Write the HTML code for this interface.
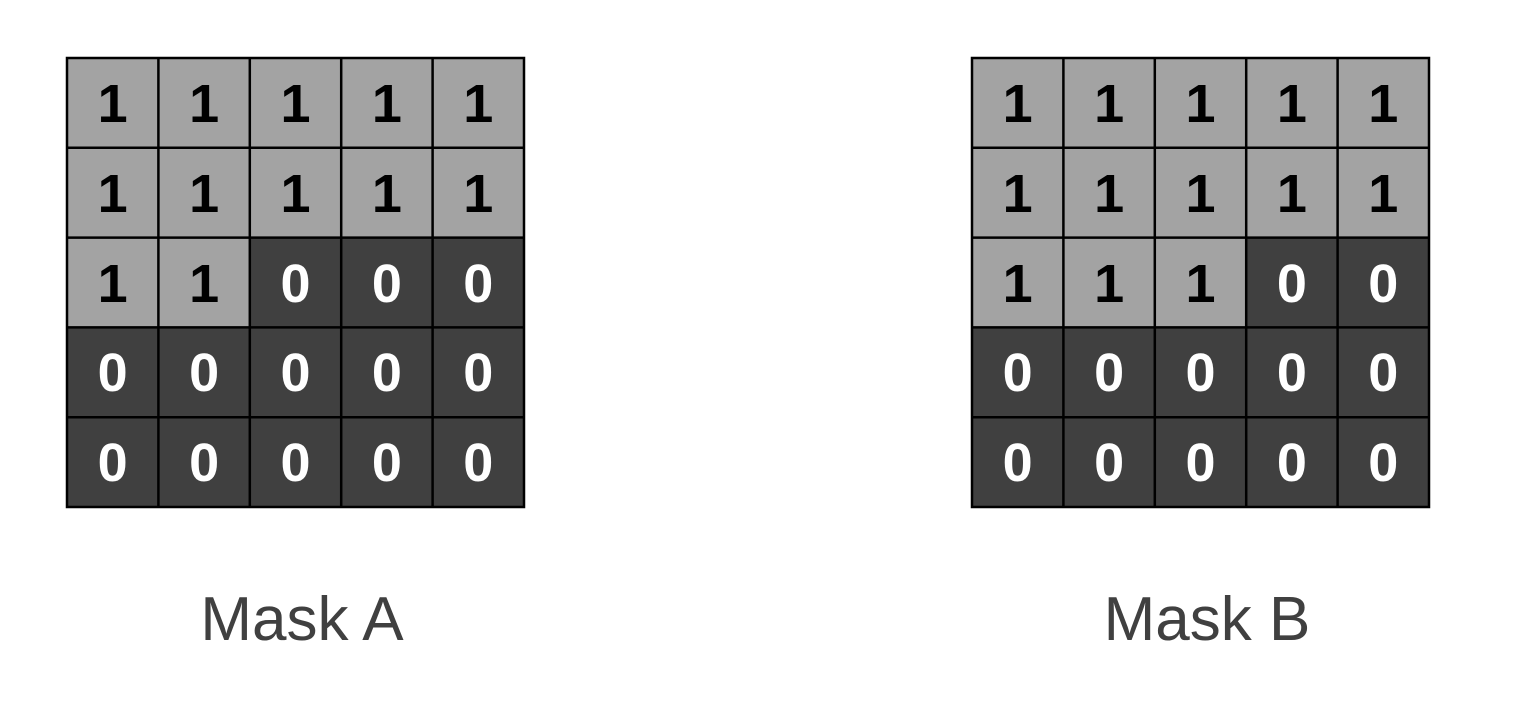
<!DOCTYPE html>
<html><head><style>html,body{margin:0;padding:0;background:#fff;}svg{display:block}</style></head>
<body>
<svg width="1522" height="704" xmlns="http://www.w3.org/2000/svg" font-family="'Liberation Sans', sans-serif">
<g id="a" transform="translate(67,58)">
</g>
<script>
</script>
<!-- Grid A -->
<g font-weight="bold" font-size="54" text-anchor="middle">
<g transform="translate(67,58)">
<rect x="0" y="0" width="457" height="449" fill="#a3a3a3"/>
<rect x="0" y="269.4" width="457" height="179.6" fill="#404040"/>
<rect x="182.8" y="179.6" width="274.2" height="89.8" fill="#404040"/>
<g stroke="#000" stroke-width="2.5" fill="none">
<rect x="0" y="0" width="457" height="449"/>
<line x1="91.4" y1="0" x2="91.4" y2="449"/><line x1="182.8" y1="0" x2="182.8" y2="449"/><line x1="274.2" y1="0" x2="274.2" y2="449"/><line x1="365.6" y1="0" x2="365.6" y2="449"/>
<line x1="0" y1="89.8" x2="457" y2="89.8"/><line x1="0" y1="179.6" x2="457" y2="179.6"/><line x1="0" y1="269.4" x2="457" y2="269.4"/><line x1="0" y1="359.2" x2="457" y2="359.2"/>
</g>
<g fill="#000">
<text x="45.7" y="64">1</text><text x="137.1" y="64">1</text><text x="228.5" y="64">1</text><text x="319.9" y="64">1</text><text x="411.3" y="64">1</text>
<text x="45.7" y="154">1</text><text x="137.1" y="154">1</text><text x="228.5" y="154">1</text><text x="319.9" y="154">1</text><text x="411.3" y="154">1</text>
<text x="45.7" y="244">1</text><text x="137.1" y="244">1</text>
</g>
<g fill="#fff">
<text x="228.5" y="244">0</text><text x="319.9" y="244">0</text><text x="411.3" y="244">0</text>
<text x="45.7" y="333">0</text><text x="137.1" y="333">0</text><text x="228.5" y="333">0</text><text x="319.9" y="333">0</text><text x="411.3" y="333">0</text>
<text x="45.7" y="423">0</text><text x="137.1" y="423">0</text><text x="228.5" y="423">0</text><text x="319.9" y="423">0</text><text x="411.3" y="423">0</text>
</g>
</g>
<g transform="translate(972,58)">
<rect x="0" y="0" width="457" height="449" fill="#a3a3a3"/>
<rect x="0" y="269.4" width="457" height="179.6" fill="#404040"/>
<rect x="274.2" y="179.6" width="182.8" height="89.8" fill="#404040"/>
<g stroke="#000" stroke-width="2.5" fill="none">
<rect x="0" y="0" width="457" height="449"/>
<line x1="91.4" y1="0" x2="91.4" y2="449"/><line x1="182.8" y1="0" x2="182.8" y2="449"/><line x1="274.2" y1="0" x2="274.2" y2="449"/><line x1="365.6" y1="0" x2="365.6" y2="449"/>
<line x1="0" y1="89.8" x2="457" y2="89.8"/><line x1="0" y1="179.6" x2="457" y2="179.6"/><line x1="0" y1="269.4" x2="457" y2="269.4"/><line x1="0" y1="359.2" x2="457" y2="359.2"/>
</g>
<g fill="#000">
<text x="45.7" y="64">1</text><text x="137.1" y="64">1</text><text x="228.5" y="64">1</text><text x="319.9" y="64">1</text><text x="411.3" y="64">1</text>
<text x="45.7" y="154">1</text><text x="137.1" y="154">1</text><text x="228.5" y="154">1</text><text x="319.9" y="154">1</text><text x="411.3" y="154">1</text>
<text x="45.7" y="244">1</text><text x="137.1" y="244">1</text><text x="228.5" y="244">1</text>
</g>
<g fill="#fff">
<text x="319.9" y="244">0</text><text x="411.3" y="244">0</text>
<text x="45.7" y="333">0</text><text x="137.1" y="333">0</text><text x="228.5" y="333">0</text><text x="319.9" y="333">0</text><text x="411.3" y="333">0</text>
<text x="45.7" y="423">0</text><text x="137.1" y="423">0</text><text x="228.5" y="423">0</text><text x="319.9" y="423">0</text><text x="411.3" y="423">0</text>
</g>
</g>
</g>
<g font-size="62" fill="#404040" text-anchor="middle">
<text x="302" y="640">Mask A</text>
<text x="1207" y="640">Mask B</text>
</g>
</svg>
</body></html>
